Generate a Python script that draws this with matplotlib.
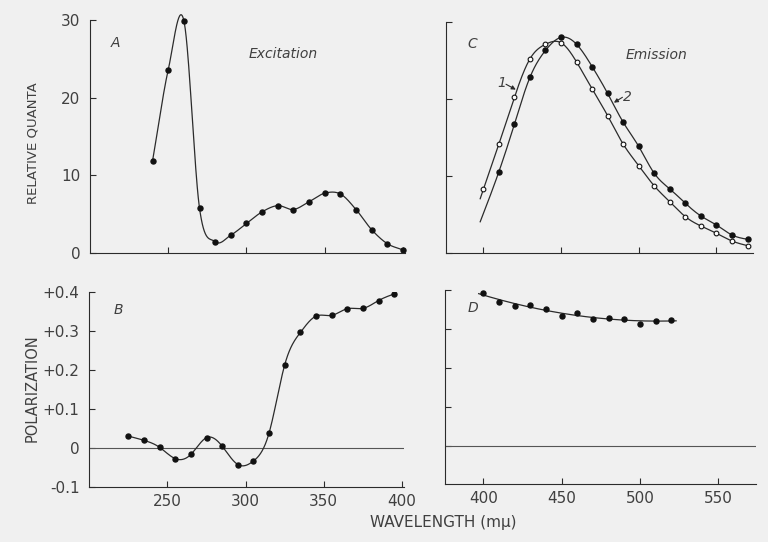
import numpy as np
import matplotlib
matplotlib.use("Agg")
import matplotlib.pyplot as plt

# ---------------- data ----------------
# Panel A: excitation spectrum (relative quanta)
exc_wl = [240, 250, 260, 270, 280, 290, 300, 310, 320, 330, 340, 350, 360, 370, 380, 390, 400]
exc_q = [11.9, 23.6, 29.9, 5.75, 1.46, 2.3, 3.8, 5.3, 6.1, 5.6, 6.6, 7.7, 7.6, 5.6, 3.0, 1.2, 0.4]

# Panel B: excitation polarization
pol_exc_wl = [225, 235, 245, 255, 265, 275, 285, 295, 305, 315, 325, 335, 345, 355, 365, 375, 385, 395]
pol_exc = [0.030, 0.019, 0.001, -0.028, -0.017, 0.026, 0.004, -0.043, -0.034, 0.038,
           0.213, 0.296, 0.338, 0.340, 0.357, 0.358, 0.378, 0.395]

# Panel C: emission spectra, curve 1 (open) and curve 2 (filled)
em1_wl = [400, 410, 420, 430, 440, 450, 460, 470, 480, 490, 500, 510, 520, 530, 540, 550, 560, 570]
em1_q = [8.2, 14.1, 20.2, 25.2, 27.1, 27.3, 24.8, 21.3, 17.8, 14.1, 11.3, 8.66, 6.6, 4.66, 3.45, 2.5, 1.5, 0.89]
em2_wl = [410, 420, 430, 440, 450, 460, 470, 480, 490, 500, 510, 520, 530, 540, 550, 560, 570]
em2_q = [10.5, 16.7, 22.8, 26.3, 28.0, 27.1, 24.2, 20.7, 16.95, 13.8, 10.3, 8.27, 6.4, 4.75, 3.58, 2.28, 1.72]
em1_start = (398, 7.0)   # where drawn curve 1 begins
em2_start = (398, 4.0)   # where drawn curve 2 begins

# Panel D: emission polarization
pol_em_wl = [400, 410, 420, 430, 440, 450, 460, 470, 480, 490, 500, 510, 520]
pol_em = [0.392, 0.369, 0.360, 0.362, 0.351, 0.334, 0.342, 0.325, 0.329, 0.325, 0.313, 0.321, 0.323]

quanta_ticks = [0, 10, 20, 30]
pol_ticks = [-0.1, 0.0, 0.1, 0.2, 0.3, 0.4]
pol_labels = ["-0.1", "0", "+0.1", "+0.2", "+0.3", "+0.4"]
exc_xticks = [250, 300, 350, 400]
em_xticks = [400, 450, 500, 550]


# ---------------- helpers ----------------
def natural_spline(x, y, n=500):
    x = np.asarray(x, float)
    y = np.asarray(y, float)
    h = np.diff(x)
    m = len(x)
    A = np.zeros((m, m))
    r = np.zeros(m)
    A[0, 0] = A[-1, -1] = 1.0
    for i in range(1, m - 1):
        A[i, i - 1] = h[i - 1]
        A[i, i] = 2 * (h[i - 1] + h[i])
        A[i, i + 1] = h[i]
        r[i] = 6 * ((y[i + 1] - y[i]) / h[i] - (y[i] - y[i - 1]) / h[i - 1])
    M = np.linalg.solve(A, r)
    xs = np.linspace(x[0], x[-1], n)
    idx = np.clip(np.searchsorted(x, xs) - 1, 0, m - 2)
    xi, xi1, hi = x[idx], x[idx + 1], h[idx]
    a = (xi1 - xs) / hi
    b = (xs - xi) / hi
    ys = a * y[idx] + b * y[idx + 1] + ((a ** 3 - a) * M[idx] + (b ** 3 - b) * M[idx + 1]) * hi ** 2 / 6
    return xs, ys


def catmull(x, y, n=500):
    x = np.asarray(x, float)
    y = np.asarray(y, float)
    m = np.empty_like(y)
    m[1:-1] = (y[2:] - y[:-2]) / (x[2:] - x[:-2])
    m[0] = (y[1] - y[0]) / (x[1] - x[0])
    m[-1] = (y[-1] - y[-2]) / (x[-1] - x[-2])
    xs = np.linspace(x[0], x[-1], n)
    idx = np.clip(np.searchsorted(x, xs) - 1, 0, len(x) - 2)
    h = x[idx + 1] - x[idx]
    t = (xs - x[idx]) / h
    h00 = 2 * t ** 3 - 3 * t ** 2 + 1
    h10 = t ** 3 - 2 * t ** 2 + t
    h01 = -2 * t ** 3 + 3 * t ** 2
    h11 = t ** 3 - t ** 2
    ys = h00 * y[idx] + h10 * h * m[idx] + h01 * y[idx + 1] + h11 * h * m[idx + 1]
    return xs, ys


BG = "#f0f0f0"
INK = "#2b2b2b"
TXT = "#404040"

plt.rcParams["font.family"] = ["DejaVu Sans"]

W, H = 768, 542
fig = plt.figure(figsize=(W / 100, H / 100), dpi=100)
fig.patch.set_facecolor(BG)


def px_axes(left, top, right, bottom):
    return fig.add_axes([left / W, 1 - bottom / H, (right - left) / W, (bottom - top) / H])


def style(ax):
    ax.set_facecolor(BG)
    for s in ("top", "right"):
        ax.spines[s].set_visible(False)
    for s in ("left", "bottom"):
        ax.spines[s].set_color(INK)
        ax.spines[s].set_linewidth(0.8)
    ax.tick_params(direction="in", length=4, width=0.8, color=INK,
                   labelsize=11, labelcolor=TXT, pad=5)


axA = px_axes(90, 20, 405, 253)
axB = px_axes(89.3, 292, 404.3, 486.7)
axC = px_axes(446, 22, 753, 252.5)
axD = px_axes(445.3, 290, 756, 484.3)
for ax in (axA, axB, axC, axD):
    style(ax)

# ---- Panel A ----
xs, ys = catmull(exc_wl, exc_q)
axA.plot(xs, ys, color=INK, lw=0.9, clip_on=False)
axA.plot(exc_wl, exc_q, "o", color="#111111", ms=3.6, clip_on=False)
axA.set_xlim(200, 401.3)
axA.set_ylim(0, 30)
axA.set_yticks(quanta_ticks)
axA.set_yticklabels([str(t) for t in quanta_ticks])
axA.set_xticks(exc_xticks)
axA.set_xticklabels([])
axA.tick_params(axis="y", pad=7)

# ---- Panel B ----
xs, ys = natural_spline(pol_exc_wl, pol_exc)
axB.axhline(0, color="#555555", lw=0.8, xmax=(403.3 - 89.3) / (404.3 - 89.3))
axB.plot(xs, ys, color=INK, lw=0.9)
axB.plot(pol_exc_wl, pol_exc, "o", color="#111111", ms=3.6)
axB.set_xlim(200, 401.5)
axB.set_ylim(-0.1, 0.4)
axB.set_yticks(pol_ticks)
axB.set_yticklabels(pol_labels)
axB.set_xticks(exc_xticks)
axB.set_xticklabels([str(t) for t in exc_xticks])
axB.tick_params(axis="y", pad=7)

# ---- Panel C ----
xs1, ys1 = natural_spline([em1_start[0]] + em1_wl, [em1_start[1]] + em1_q)
xs2, ys2 = natural_spline([em2_start[0]] + em2_wl, [em2_start[1]] + em2_q)
axC.plot(xs1, ys1, color=INK, lw=0.9)
axC.plot(xs2, ys2, color=INK, lw=0.9)
axC.plot(em1_wl, em1_q, "o", mfc="white", mec="#111111", mew=0.8, ms=3.4)
axC.plot(em2_wl, em2_q, "o", color="#111111", ms=3.6)
axC.set_xlim(376, 573.5)
axC.set_ylim(0, 30)
axC.set_yticks(quanta_ticks)
axC.set_yticklabels([])
axC.set_xticks(em_xticks)
axC.set_xticklabels([])
axC.annotate("", xy=(420.9, 21.2), xytext=(414.6, 21.9),
             arrowprops=dict(arrowstyle="-|>", color=INK, lw=0.8, mutation_scale=6,
                             shrinkA=0, shrinkB=0))
axC.annotate("", xy=(484.0, 19.5), xytext=(489.5, 20.2),
             arrowprops=dict(arrowstyle="-|>", color=INK, lw=0.8, mutation_scale=6,
                             shrinkA=0, shrinkB=0))
axC.text(412.0, 22.0, "1", ha="center", va="center", style="italic", fontsize=10, color=TXT)
axC.text(492.8, 20.2, "2", ha="center", va="center", style="italic", fontsize=10, color=TXT)

# ---- Panel D ----
coef = np.polyfit(pol_em_wl, pol_em, 2)
xd = np.linspace(397, 523, 200)
axD.axhline(0, color="#555555", lw=0.8)
axD.plot(xd, np.polyval(coef, xd), color=INK, lw=0.9)
axD.plot(pol_em_wl, pol_em, "o", color="#111111", ms=3.6)
axD.set_xlim(375.7, 574)
axD.set_ylim(-0.098, 0.4)
axD.set_yticks(pol_ticks[1:])
axD.set_yticklabels([])
axD.set_xticks(em_xticks)
axD.set_xticklabels([str(t) for t in em_xticks])


# ---- figure texts ----
def ftext(x, y, s, **kw):
    kw.setdefault("color", TXT)
    fig.text(x / W, 1 - y / H, s, ha="center", va="center", **kw)


ftext(115, 43, "A", style="italic", fontsize=10)
ftext(283, 54, "Excitation", style="italic", fontsize=10)
ftext(118, 310, "B", style="italic", fontsize=10)
ftext(472, 44, "C", style="italic", fontsize=10)
ftext(657, 55, "Emission", style="italic", fontsize=10)
ftext(473, 308, "D", style="italic", fontsize=10)
ftext(33, 143, "RELATIVE QUANTA", rotation=90, fontsize=9.5)
ftext(32, 388, "POLARIZATION", rotation=90, fontsize=10.5)
ftext(443, 522, "WAVELENGTH (mμ)", fontsize=11)

fig.savefig("out.png", dpi=100, facecolor=BG)
